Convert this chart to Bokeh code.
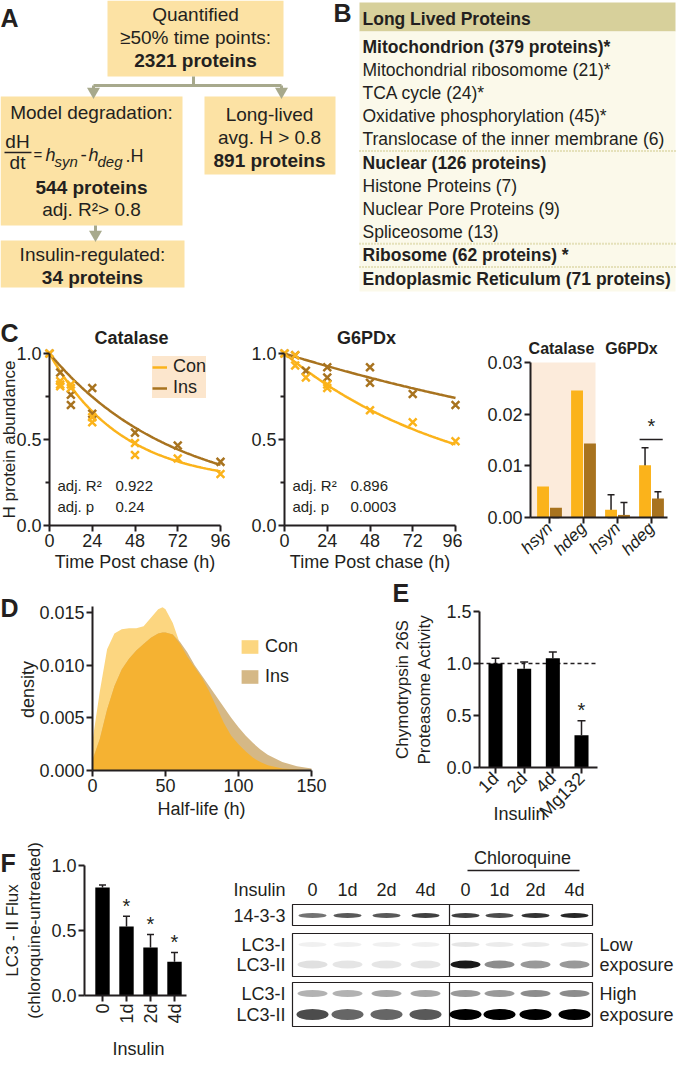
import numpy as np
from bokeh.plotting import figure
from bokeh.layouts import row, column
from bokeh.models import (Range1d, Label, Whisker, TeeHead, ColumnDataSource,
                          Legend, LegendItem, FixedTicker, LinearAxis)
from bokeh.embed import file_html
from bokeh.resources import INLINE

FONT = "Liberation Sans"
TXT = "#231f20"
CON = "#fbb31b"
INS = "#a8731f"

# ---------------- data ----------------
# A: flow chart counts
n_quantified = 2321
n_modelled = 544
n_longlived = 891
n_insulin = 34

# B: long lived protein table
b_header = "Long Lived Proteins"
b_items = ["Mitochondrion (379 proteins)*", "Mitochondrial ribosomome (21)*", "TCA cycle (24)*",
           "Oxidative phosphorylation (45)*", "Translocase of the inner membrane (6)",
           "Nuclear (126 proteins)", "Histone Proteins (7)", "Nuclear Pore  Proteins (9)",
           "Spliceosome (13)", "Ribosome (62 proteins) *", "Endoplasmic  Reticulum (71 proteins)"]
b_bold = [True, False, False, False, False, True, False, False, False, True, True]
b_dotted_after = [4, 8, 9]

# C: heavy-label decay (time in h, H abundance)
cat_con_t = [0, 6, 6, 6, 12, 12, 24, 24, 48, 48, 72, 96]
cat_con_h = [1.00, 0.84, 0.82, 0.81, 0.82, 0.80, 0.63, 0.60, 0.48, 0.41, 0.39, 0.30]
cat_ins_t = [0, 6, 12, 12, 24, 24, 48, 72, 96]
cat_ins_h = [1.00, 0.89, 0.76, 0.70, 0.80, 0.65, 0.54, 0.465, 0.37]
g6p_con_t = [0, 6, 6, 12, 24, 24, 48, 72, 96]
g6p_con_h = [1.00, 0.99, 0.93, 0.86, 0.82, 0.80, 0.67, 0.60, 0.49]
g6p_ins_t = [0, 6, 12, 24, 24, 48, 48, 72, 96]
g6p_ins_h = [1.00, 0.99, 0.90, 0.92, 0.86, 0.92, 0.83, 0.765, 0.70]
fit_r2 = ["0.922", "0.896"]
fit_p = ["0.24", "0.0003"]

# C right: fitted rates, order Catalase, G6PDx
hsyn_con = [0.0060, 0.0015]
hsyn_con_lo = [0.0046, 0.0]
hsyn_con_hi = [0.0072, 0.0044]
hsyn_ins = [0.0019, 0.0005]
hsyn_ins_lo = [0.0, 0.0]
hsyn_ins_hi = [0.0068, 0.0029]
hdeg_con = [0.0246, 0.0101]
hdeg_con_lo = [0.0228, 0.0084]
hdeg_con_hi = [0.0266, 0.0135]
hdeg_ins = [0.0143, 0.0037]
hdeg_ins_lo = [0.0113, 0.0027]
hdeg_ins_hi = [0.0218, 0.0050]
rate_labels = ["hsyn", "hdeg", "hsyn", "hdeg"]

# D: half-life density
hl = [0, 5, 10, 15, 20, 25, 30, 35, 40, 45, 48, 50, 55, 60, 65, 70, 75, 80, 85, 90,
      95, 100, 105, 110, 115, 120, 130, 140, 150]
dens_con = [0.0028, 0.0075, 0.0115, 0.0130, 0.0134, 0.0135, 0.0135, 0.0137, 0.0145, 0.0153,
            0.0155, 0.0153, 0.0140, 0.0120, 0.0108, 0.0098, 0.0088, 0.0075, 0.0060, 0.0045,
            0.0033, 0.0025, 0.0018, 0.0012, 0.0008, 0.0005, 0.0002, 0.0001, 0.0]
dens_ins = [0.0010, 0.0030, 0.0058, 0.0080, 0.0096, 0.0106, 0.0114, 0.0120, 0.0126, 0.0130,
            0.0131, 0.0131, 0.0129, 0.0122, 0.0112, 0.0100, 0.0090, 0.0080, 0.0070, 0.0060,
            0.0050, 0.0041, 0.0033, 0.0026, 0.0020, 0.0015, 0.0008, 0.0004, 0.0002]

# E: proteasome activity
e_labels = ["1d", "2d", "4d", "Mg132"]
e_vals = [1.00, 0.95, 1.05, 0.31]
e_err = [0.05, 0.065, 0.06, 0.14]

# F: LC3-II flux
f_labels = ["0", "1d", "2d", "4d"]
f_vals = [0.83, 0.53, 0.37, 0.26]
f_err = [0.02, 0.08, 0.10, 0.07]
lane_labels = ["0", "1d", "2d", "4d", "0", "1d", "2d", "4d"]
band_1433 = [0.55, 0.65, 0.65, 0.75, 0.75, 0.70, 0.80, 0.85]
band_low_lc3i = [0.06, 0.06, 0.06, 0.06, 0.10, 0.08, 0.08, 0.08]
band_low_lc3ii = [0.12, 0.10, 0.10, 0.10, 0.90, 0.45, 0.40, 0.40]
band_high_lc3i = [0.30, 0.30, 0.35, 0.35, 0.40, 0.40, 0.45, 0.45]
band_high_lc3ii = [0.70, 0.60, 0.60, 0.65, 1.00, 1.00, 1.00, 1.00]


# ---------------- helpers ----------------
def panel(box, xmap=(0, 0, 1, 1), ymap=(0, 0, 1, 1)):
    """Figure whose frame fills the box; xmap/ymap = (value0, pixel0, value1, pixel1)."""
    L, T, R, B = box
    kx = (xmap[2] - xmap[0]) / (xmap[3] - xmap[1])
    ky = (ymap[2] - ymap[0]) / (ymap[3] - ymap[1])
    vx = lambda px: xmap[0] + (px - xmap[1]) * kx
    vy = lambda py: ymap[0] + (py - ymap[1]) * ky
    p = figure(width=R - L, height=B - T,
               x_range=Range1d(vx(L), vx(R)), y_range=Range1d(vy(B), vy(T)),
               min_border_left=0, min_border_right=0, min_border_top=0, min_border_bottom=0,
               x_axis_type=None, y_axis_type=None,
               toolbar_location=None, output_backend="svg")
    p.outline_line_color = None
    p.background_fill_color = "white"
    p.border_fill_color = "white"
    return p, vx, vy


def lab(p, vx, vy, x, y, text, size=18, style="normal", align="center", base="middle",
        angle=0.0, color=TXT):
    p.add_layout(Label(x=vx(x), y=vy(y), text=text, text_font=FONT,
                       text_font_size=f"{size}px", text_font_style=style,
                       text_align=align, text_baseline=base, angle=angle, text_color=color))


def style_axis(ax, size=18):
    ax.axis_line_width = 2
    ax.axis_line_color = TXT
    ax.major_tick_line_width = 2
    ax.major_tick_line_color = TXT
    ax.major_tick_in = 0
    ax.major_tick_out = 6
    ax.minor_tick_line_width = 2
    ax.minor_tick_line_color = TXT
    ax.minor_tick_in = 0
    ax.minor_tick_out = 4
    ax.major_label_text_font = FONT
    ax.major_label_text_font_size = f"{size}px"
    ax.major_label_text_color = TXT
    ax.major_label_standoff = 2


def add_axes(p, x_at, y_at, xticks, yticks, xbounds, ybounds, xlabels, ylabels,
             yminor=None, xorient="horizontal", xsize=18, xstyle="normal"):
    xa = LinearAxis(fixed_location=x_at, ticker=FixedTicker(ticks=xticks), bounds=xbounds,
                    major_label_overrides={k: v for k, v in zip(xticks, xlabels)})
    ya = LinearAxis(fixed_location=y_at,
                    ticker=FixedTicker(ticks=yticks, minor_ticks=yminor or []), bounds=ybounds,
                    major_label_overrides={k: v for k, v in zip(yticks, ylabels)})
    style_axis(xa, xsize)
    style_axis(ya)
    xa.major_label_orientation = xorient
    xa.major_label_text_font_style = xstyle
    p.add_layout(xa, "below")
    p.add_layout(ya, "left")


# ---------------- A + B ----------------
DY = 6  # shift so that the top texts are not cut by the page margin
pAB, ax_, ay_ = panel((8, 8, 685, 325))
BOX = "#fce2a4"
ARW = "#a7a98c"
pAB.quad(left=[115, 8, 212, 8], right=[291, 190, 343, 192],
         top=[8, 98 + DY, 98 + DY, 242 + DY], bottom=[78 + DY, 227 + DY, 176 + DY, 289 + DY],
         fill_color=BOX, line_color=None)
pAB.line([201, 201], [78 + DY, 87 + DY], line_color=ARW, line_width=3)
pAB.line([101, 289], [87 + DY, 87 + DY], line_color=ARW, line_width=3)
pAB.line([101, 101], [87 + DY, 92 + DY], line_color=ARW, line_width=3)
pAB.line([289, 289], [87 + DY, 92 + DY], line_color=ARW, line_width=3)
pAB.line([103, 103], [227 + DY, 233 + DY], line_color=ARW, line_width=3)
pAB.scatter([101, 289, 103], [93 + DY, 93 + DY, 236 + DY], marker="inverted_triangle", size=13,
            fill_color=ARW, line_color=None)
lab(pAB, ax_, ay_, 8, 19 + DY, "A", size=25, style="bold", align="left")
lab(pAB, ax_, ay_, 203, 16 + DY, "Quantified", size=19)
lab(pAB, ax_, ay_, 203, 39 + DY, "\u226550% time points:", size=19)
lab(pAB, ax_, ay_, 203, 62 + DY, f"{n_quantified} proteins", size=19, style="bold")
lab(pAB, ax_, ay_, 99, 114 + DY, "Model degradation:", size=19)
lab(pAB, ax_, ay_, 25, 143 + DY, "dH", size=19)
pAB.line([12, 39], [154 + DY, 154 + DY], line_color=TXT, line_width=1.5)
lab(pAB, ax_, ay_, 25, 164 + DY, "dt", size=19)
lab(pAB, ax_, ay_, 41, 156 + DY, "=", size=15, align="left")
lab(pAB, ax_, ay_, 53, 156 + DY, "h", size=18, style="italic", align="left")
lab(pAB, ax_, ay_, 62, 163 + DY, "syn", size=15, style="italic", align="left")
lab(pAB, ax_, ay_, 88, 156 + DY, "-", size=19, align="left")
lab(pAB, ax_, ay_, 96, 156 + DY, "h", size=18, style="italic", align="left")
lab(pAB, ax_, ay_, 105, 163 + DY, "deg", size=15, style="italic", align="left")
lab(pAB, ax_, ay_, 133, 157 + DY, ".H", size=18, align="left")
lab(pAB, ax_, ay_, 99, 189 + DY, f"{n_modelled} proteins", size=19, style="bold")
lab(pAB, ax_, ay_, 99, 211 + DY, "adj. R\u00b2> 0.8", size=19)
lab(pAB, ax_, ay_, 100, 256 + DY, "Insulin-regulated:", size=19)
lab(pAB, ax_, ay_, 100, 279 + DY, f"{n_insulin} proteins", size=19, style="bold")
lab(pAB, ax_, ay_, 277, 116 + DY, "Long-lived", size=19)
lab(pAB, ax_, ay_, 277, 139 + DY, "avg. H > 0.8", size=19)
lab(pAB, ax_, ay_, 277, 162 + DY, f"{n_longlived} proteins", size=19, style="bold")

# B table
pAB.quad(left=[367], right=[683], top=[4 + DY], bottom=[33 + DY], fill_color="#d7d09b", line_color=None)
pAB.quad(left=[367], right=[683], top=[33 + DY], bottom=[293 + DY], fill_color="#fbf9ea", line_color=None)
lab(pAB, ax_, ay_, 341, 14 + DY, "B", size=25, style="bold", align="left")
lab(pAB, ax_, ay_, 370, 20 + DY, b_header, size=17.5, style="bold", align="left")
row_y = [48 + DY + 23.2 * i for i in range(len(b_items))]
for yy, txt, bb in zip(row_y, b_items, b_bold):
    lab(pAB, ax_, ay_, 370, yy, txt, size=17.5, style="bold" if bb else "normal", align="left")
for i in b_dotted_after:
    ys = (row_y[i] + row_y[i + 1]) / 2
    pAB.line([367, 683], [ys, ys], line_color="#cfc98a", line_width=2, line_dash="1 2")


# ---------------- C ----------------
def decay_panel(box, x0px, title, title_x, con_t, con_h, ins_t, ins_h, k, r2, pv,
                ylabel, letter, legend):
    x96 = x0px + 171
    p, vx, vy = panel(box, (0, x0px, 96, x96), (0, 533, 1, 361))
    add_axes(p, 0, 0, [0, 24, 48, 72, 96], [0, 0.5, 1.0], (0, 96), (0, 1),
             ["0", "24", "48", "72", "96"], ["0.0", "0.5", "1.0"], yminor=[0.25, 0.75])
    tt = np.linspace(0, 96, 97)
    rs = []
    for hs, hd, col in ((hsyn_con[k], hdeg_con[k], CON), (hsyn_ins[k], hdeg_ins[k], INS)):
        hh = hs / hd + (1 - hs / hd) * np.exp(-hd * tt)
        rs.append(p.line(tt, hh, line_color=col, line_width=2.5))
    p.scatter(ins_t, ins_h, marker="x", size=11, line_color=INS, line_width=2.5)
    p.scatter(con_t, con_h, marker="x", size=11, line_color=CON, line_width=2.5)
    lab(p, vx, vy, title_x, 345, title, size=18, style="bold")
    lab(p, vx, vy, x0px + 8, 493, "adj. R\u00b2", size=15, align="left")
    lab(p, vx, vy, x0px + 66, 493, r2, size=15, align="left")
    lab(p, vx, vy, x0px + 8, 514, "adj. p", size=15, align="left")
    lab(p, vx, vy, x0px + 66, 514, pv, size=15, align="left")
    lab(p, vx, vy, (x0px + x96) / 2, 569, "Time Post chase (h)", size=18)
    if ylabel:
        lab(p, vx, vy, 17, 447, "H protein abundance", size=17, angle=np.pi / 2)
    if letter:
        lab(p, vx, vy, 8, 340, letter, size=25, style="bold", align="left")
    if legend:
        lg = Legend(items=[LegendItem(label="Con", renderers=[rs[0]]),
                           LegendItem(label="Ins", renderers=[rs[1]])],
                    location=(160 - box[0], box[3] - 406), background_fill_color="#fce6cd",
                    background_fill_alpha=1, border_line_color=None, padding=2, spacing=0,
                    margin=0, label_text_font=FONT, label_text_font_size="18px",
                    label_text_color=TXT, glyph_width=15, glyph_height=18, label_height=18,
                    label_standoff=6)
        p.add_layout(lg)
    return p


pC1 = decay_panel((8, 325, 240, 582), 57, "Catalase", 139,
                  cat_con_t, cat_con_h, cat_ins_t, cat_ins_h, 0, fit_r2[0], fit_p[0],
                  True, "C", True)
pC2 = decay_panel((240, 325, 470, 582), 292, "G6PDx", 374,
                  g6p_con_t, g6p_con_h, g6p_ins_t, g6p_ins_h, 1, fit_r2[1], fit_p[1],
                  False, None, False)

# C right: rate bars
pC3, cx, cy = panel((470, 325, 685, 582), (1, 557, 4, 659), (0, 525, 0.03, 370))
pC3.quad(left=[cx(538)], right=[cx(603)], bottom=[0], top=[0.03], fill_color="#fcebdb", line_color=None)
pos = [1, 2, 3, 4]
con_v = [hsyn_con[0], hdeg_con[0], hsyn_con[1], hdeg_con[1]]
con_lo = [hsyn_con_lo[0], hdeg_con_lo[0], hsyn_con_lo[1], hdeg_con_lo[1]]
con_hi = [hsyn_con_hi[0], hdeg_con_hi[0], hsyn_con_hi[1], hdeg_con_hi[1]]
ins_v = [hsyn_ins[0], hdeg_ins[0], hsyn_ins[1], hdeg_ins[1]]
ins_lo = [hsyn_ins_lo[0], hdeg_ins_lo[0], hsyn_ins_lo[1], hdeg_ins_lo[1]]
ins_hi = [hsyn_ins_hi[0], hdeg_ins_hi[0], hsyn_ins_hi[1], hdeg_ins_hi[1]]
for off, vals, lo, hi, col in ((-0.19, con_v, con_lo, con_hi, CON), (0.19, ins_v, ins_lo, ins_hi, INS)):
    xs = [q + off for q in pos]
    pC3.vbar(x=xs, top=vals, width=0.35, fill_color=col, line_color=None)
    src = ColumnDataSource(dict(x=xs, lo=lo, hi=hi))
    pC3.add_layout(Whisker(source=src, base="x", lower="lo", upper="hi", line_color=TXT, line_width=1.5,
                           upper_head=TeeHead(size=7, line_width=1.5, line_color=TXT),
                           lower_head=TeeHead(size=7, line_width=1.5, line_color=TXT)))
add_axes(pC3, 0, cx(538), pos, [0, 0.01, 0.02, 0.03], (cx(538), cx(675)), (0, 0.03),
         rate_labels, ["0.00", "0.01", "0.02", "0.03"], xorient=np.pi / 4, xsize=17,
         xstyle="italic")
sig_y = hdeg_con_hi[1] + 0.0016
pC3.line([4 - 0.35, 4 + 0.33], [sig_y, sig_y], line_color=TXT, line_width=1.5)
lab(pC3, cx, cy, 659, 433, "*", size=20)
lab(pC3, cx, cy, 569, 356, "Catalase", size=16, style="bold")
lab(pC3, cx, cy, 639, 356, "G6PDx", size=16, style="bold")

# ---------------- D ----------------
pD, dx, dy = panel((8, 582, 395, 842), (0, 100, 150, 319), (0, 778, 0.015, 620))
con_a = np.array(dens_con)
ins_a = np.array(dens_ins)
r_con = pD.varea(x=hl, y1=0, y2=con_a, fill_color="#fcd680")
r_ins = pD.varea(x=hl, y1=0, y2=ins_a, fill_color="#d5b886")
pD.varea(x=hl, y1=0, y2=np.minimum(con_a, ins_a), fill_color="#f5b232")
add_axes(pD, 0, 0, [0, 50, 100, 150], [0, 0.005, 0.010, 0.015], (0, 150), (0, dy(614)),
         ["0", "50", "100", "150"], ["0.000", "0.005", "0.010", "0.015"])
lab(pD, dx, dy, 8, 615, "D", size=25, style="bold", align="left")
lab(pD, dx, dy, 35, 697, "density", size=18, angle=np.pi / 2)
lab(pD, dx, dy, 209, 816, "Half-life (h)", size=18)
pD.add_layout(Legend(items=[LegendItem(label="Con", renderers=[r_con]),
                            LegendItem(label="Ins", renderers=[r_ins])],
                     location=(247 - 8, 842 - 695), background_fill_alpha=0, border_line_color=None,
                     padding=0, spacing=9, margin=0, label_text_font=FONT,
                     label_text_font_size="18px", label_text_color=TXT,
                     glyph_width=21, glyph_height=17, label_height=17, label_standoff=5))

# ---------------- E ----------------
pE, ex, ey = panel((395, 582, 685, 842), (1, 503, 4, 589), (0, 775, 1.5, 619))
epos = [1, 2, 3, 4]
pE.line([ex(487), ex(605)], [1.0, 1.0], line_color=TXT, line_width=1.5, line_dash="4 3")
pE.vbar(x=epos, top=e_vals, width=0.49, fill_color="black", line_color=None)
esrc = ColumnDataSource(dict(x=epos, lo=e_vals, hi=[v + e for v, e in zip(e_vals, e_err)]))
pE.add_layout(Whisker(source=esrc, base="x", lower="lo", upper="hi", line_color=TXT, line_width=1.5,
                      upper_head=TeeHead(size=8, line_width=1.5, line_color=TXT), lower_head=None))
add_axes(pE, 0, ex(487), epos, [0, 0.5, 1.0, 1.5], (ex(487), ex(605)), (0, 1.5),
         e_labels, ["0.0", "0.5", "1.0", "1.5"], xorient=np.pi / 4)
pE.add_layout(Label(x=4, y=e_vals[3] + e_err[3] + 0.1, text="*", text_font=FONT, text_font_size="20px",
                    text_align="center", text_baseline="middle", text_color=TXT))
lab(pE, ex, ey, 400, 600, "E", size=25, style="bold", align="left")
lab(pE, ex, ey, 410, 697, "Chymotrypsin 26S", size=17, angle=np.pi / 2)
lab(pE, ex, ey, 432, 697, "Proteasome Activity", size=17, angle=np.pi / 2)
lab(pE, ex, ey, 527, 821, "Insulin", size=18)

# ---------------- F ----------------
pF, fx, fy = panel((8, 842, 240, 1068), (1, 110, 4, 182), (0, 1003, 1.0, 873))
fpos = [1, 2, 3, 4]
pF.vbar(x=fpos, top=f_vals, width=0.6, fill_color="black", line_color=None)
fsrc = ColumnDataSource(dict(x=fpos, lo=f_vals, hi=[v + e for v, e in zip(f_vals, f_err)]))
pF.add_layout(Whisker(source=fsrc, base="x", lower="lo", upper="hi", line_color=TXT, line_width=1.5,
                      upper_head=TeeHead(size=7, line_width=1.5, line_color=TXT), lower_head=None))
add_axes(pF, 0, fx(92), fpos, [0, 0.5, 1.0], (fx(92), fx(194)), (0, 1.0),
         f_labels, ["0.0", "0.5", "1.0"], xorient=np.pi / 2)
for q, v, e in zip(fpos[1:], f_vals[1:], f_err[1:]):
    pF.add_layout(Label(x=q, y=v + e + 0.08, text="*", text_font=FONT, text_font_size="20px",
                        text_align="center", text_baseline="middle", text_color=TXT))
lab(pF, fx, fy, 8, 870, "F", size=25, style="bold", align="left")
lab(pF, fx, fy, 20, 938, "LC3 - II Flux", size=17, angle=np.pi / 2)
lab(pF, fx, fy, 42, 938, "(chloroquine-untreated)", size=17, angle=np.pi / 2)
lab(pF, fx, fy, 146, 1056, "Insulin", size=18)

# blot
pW, wx, wy = panel((240, 842, 685, 1068))
lane_x = [320, 355, 394, 433, 473, 507, 543, 582]
lab(pW, wx, wy, 530, 865, "Chloroquine", size=18)
pW.line([475, 587], [878, 878], line_color=TXT, line_width=1.5)
lab(pW, wx, wy, 241, 897, "Insulin", size=18, align="left")
for xx, t in zip(lane_x, lane_labels):
    lab(pW, wx, wy, xx, 897, t, size=18)
boxes = [(912, 933), (941, 984), (990, 1034)]
pW.quad(left=[300] * 3, right=[600] * 3, top=[b[0] for b in boxes], bottom=[b[1] for b in boxes],
        fill_color="white", line_color=TXT, line_width=1.2)
pW.segment(x0=[457] * 3, x1=[457] * 3, y0=[b[0] for b in boxes], y1=[b[1] for b in boxes],
           line_color=TXT, line_width=1.2)
pW.ellipse(x=lane_x, y=[923] * 8, width=28, height=5, fill_color="black", fill_alpha=band_1433,
           line_color=None)
pW.ellipse(x=lane_x, y=[952] * 8, width=28, height=5, fill_color="black", fill_alpha=band_low_lc3i,
           line_color=None)
pW.ellipse(x=lane_x, y=[972] * 8, width=30, height=8, fill_color="black", fill_alpha=band_low_lc3ii,
           line_color=None)
pW.ellipse(x=lane_x, y=[1001] * 8, width=30, height=7, fill_color="black", fill_alpha=band_high_lc3i,
           line_color=None)
pW.ellipse(x=lane_x, y=[1022] * 8, width=32, height=11, fill_color="black", fill_alpha=band_high_lc3ii,
           line_color=None)
lab(pW, wx, wy, 293, 923, "14-3-3", size=18, align="right")
lab(pW, wx, wy, 293, 952, "LC3-I", size=18, align="right")
lab(pW, wx, wy, 293, 972, "LC3-II", size=18, align="right")
lab(pW, wx, wy, 293, 1001, "LC3-I", size=18, align="right")
lab(pW, wx, wy, 293, 1022, "LC3-II", size=18, align="right")
lab(pW, wx, wy, 607, 952, "Low", size=18, align="left")
lab(pW, wx, wy, 607, 972, "exposure", size=18, align="left")
lab(pW, wx, wy, 607, 1001, "High", size=18, align="left")
lab(pW, wx, wy, 607, 1022, "exposure", size=18, align="left")

layout = column(pAB, row(pC1, pC2, pC3), row(pD, pE), row(pF, pW))
open("out.html", "w").write(file_html(layout, INLINE))
